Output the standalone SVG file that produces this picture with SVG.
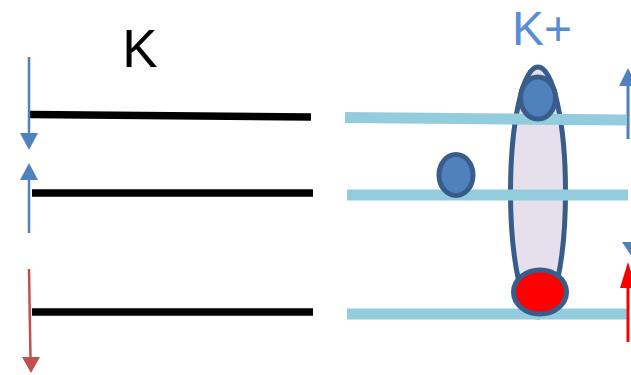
<svg xmlns="http://www.w3.org/2000/svg" width="631" height="375" viewBox="0 0 631 375">
<defs>
<style>
.blk{stroke:#000;stroke-width:7.5;fill:none}
.cy{stroke:#93CDDD;stroke-width:11;fill:none}
.sh{stroke-width:2.5;fill:none}
.ring{stroke:#385D8A;stroke-width:5}
.lbl{font-family:"Liberation Sans",Arial,sans-serif}
</style>
</defs>
<rect width="631" height="375" fill="#fff"/>
<g id="label-K"><text class="lbl" x="140" y="67" font-size="53" text-anchor="middle" fill="#000">K</text></g>
<g id="label-Kplus"><text class="lbl" x="542" y="45" font-size="48" text-anchor="middle" fill="#558ED5">K+</text></g>
<g id="membrane-K">
<line class="blk" x1="30" y1="114.5" x2="311" y2="117"/>
<line class="blk" x1="32" y1="193" x2="313" y2="193"/>
<line class="blk" x1="32" y1="312" x2="313" y2="312"/>
</g>
<g id="channel"><ellipse cx="538" cy="192" rx="27.5" ry="125" fill="#E6E0EC" class="ring"/></g>
<g id="membrane-Kplus">
<line class="cy" x1="345" y1="117.5" x2="626" y2="120"/>
<line class="cy" x1="347" y1="195" x2="628" y2="195"/>
<line class="cy" x1="347" y1="314" x2="628" y2="314"/>
</g>
<g id="ion-top"><ellipse cx="538" cy="98" rx="17.5" ry="21" fill="#4F81BD" class="ring"/></g>
<g id="ion-mid"><ellipse cx="456" cy="175" rx="17" ry="20.5" fill="#4F81BD" class="ring"/></g>
<g id="ion-red"><ellipse cx="540" cy="292" rx="26.5" ry="22" fill="#FF0000" class="ring"/></g>
<g id="connectors">
<line class="sh" x1="29" y1="57" x2="29" y2="135" stroke="#4F81BD"/>
<polygon points="20,133 38,133 29,150" fill="#4F81BD"/>
<line class="sh" x1="29" y1="233" x2="29" y2="178" stroke="#4F81BD"/>
<polygon points="20,180 38,180 29,163" fill="#4F81BD"/>
<line class="sh" x1="29" y1="269" x2="30.5" y2="359" stroke="#C0504D"/>
<polygon points="22,357 40,357 31,373" fill="#C0504D"/>
<line x1="628" y1="139" x2="628" y2="84" stroke="#4F81BD" stroke-width="3"/>
<polygon points="619,86 637,86 628,68" fill="#4F81BD"/>
<polygon points="622,242 642,242 632,257" fill="#4F81BD"/>
<line x1="628" y1="342" x2="628" y2="286" stroke="#FF0000" stroke-width="3"/>
<polygon points="620,288 636,288 628,262" fill="#FF0000"/>
</g>
</svg>
